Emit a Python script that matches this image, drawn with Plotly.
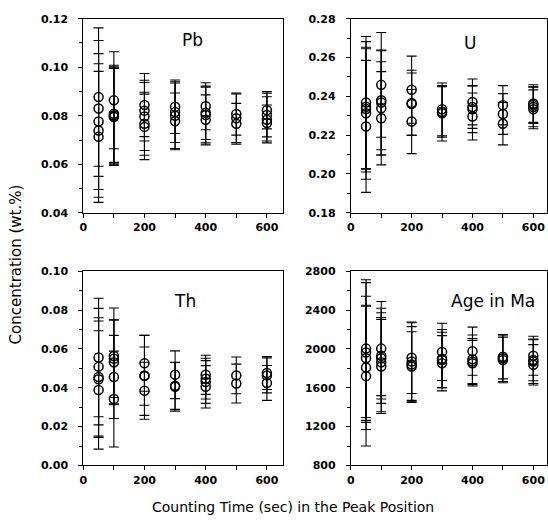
import plotly.graph_objects as go

# ---------------- data (counting time in s, value, 1-sigma error) ----------------
pb_x = [50]*5 + [100]*5 + [200]*5 + [300]*4 + [400]*4 + [500]*3 + [600]*4
pb_y = [0.0877, 0.0830, 0.0776, 0.0739, 0.0713,
        0.0864, 0.0808, 0.0802, 0.0798, 0.0795,
        0.0844, 0.0821, 0.0797, 0.0767, 0.0754,
        0.0837, 0.0815, 0.0800, 0.0777,
        0.0839, 0.0812, 0.0803, 0.0783,
        0.0807, 0.0790, 0.0767,
        0.0823, 0.0803, 0.0783, 0.0770]
pb_err = [0.0285, 0.0280, 0.0280, 0.0275, 0.0270,
          0.0200, 0.0200, 0.0200, 0.0200, 0.0200,
          0.0130, 0.0125, 0.0140, 0.0130, 0.0135,
          0.0110, 0.0125, 0.0135, 0.0117,
          0.0097, 0.0110, 0.0115, 0.0103,
          0.0087, 0.0100, 0.0084,
          0.0077, 0.0090, 0.0095, 0.0074]

u_x = [50]*5 + [100]*5 + [200]*4 + [300]*3 + [400]*4 + [500]*3 + [600]*4
u_y = [0.2368, 0.2346, 0.2335, 0.2313, 0.2245,
       0.2459, 0.2380, 0.2368, 0.2338, 0.2287,
       0.2434, 0.2366, 0.2360, 0.2270,
       0.2333, 0.2320, 0.2313,
       0.2371, 0.2345, 0.2333, 0.2296,
       0.2354, 0.2309, 0.2259,
       0.2363, 0.2355, 0.2345, 0.2333]
u_err = [0.0340, 0.0336, 0.0310, 0.0340, 0.0340,
         0.0270, 0.0255, 0.0270, 0.0240, 0.0240,
         0.0173, 0.0168, 0.0160, 0.0165,
         0.0136, 0.0130, 0.0143,
         0.0118, 0.0110, 0.0120, 0.0121,
         0.0101, 0.0105, 0.0109,
         0.0097, 0.0095, 0.0102, 0.0100]

th_x = [50]*5 + [100]*5 + [200]*4 + [300]*3 + [400]*4 + [500]*2 + [600]*3
th_y = [0.0556, 0.0509, 0.0456, 0.0444, 0.0389,
        0.0564, 0.0550, 0.0531, 0.0456, 0.0342,
        0.0526, 0.0464, 0.0460, 0.0385,
        0.0467, 0.0410, 0.0405,
        0.0467, 0.0447, 0.0430, 0.0405,
        0.0464, 0.0422,
        0.0476, 0.0464, 0.0425]
th_err = [0.0305, 0.0300, 0.0305, 0.0300, 0.0305,
          0.0247, 0.0200, 0.0218, 0.0214, 0.0247,
          0.0144, 0.0206, 0.0150, 0.0147,
          0.0123, 0.0121, 0.0125,
          0.0101, 0.0105, 0.0110, 0.0109,
          0.0095, 0.0100,
          0.0085, 0.0090, 0.0090]

age_x = [50]*5 + [100]*5 + [200]*4 + [300]*4 + [400]*4 + [500]*3 + [600]*4
age_y = [2004, 1964, 1904, 1810, 1720,
         2004, 1930, 1904, 1864, 1820,
         1910, 1870, 1840, 1820,
         1970, 1900, 1887, 1853,
         1977, 1894, 1870, 1853,
         1920, 1905, 1887,
         1930, 1887, 1870, 1837]
age_err = [710, 720, 640, 640, 720,
           485, 490, 420, 510, 485,
           368, 400, 390, 358,
           295, 300, 285, 285,
           248, 250, 237, 234,
           228, 240, 235,
           201, 215, 225, 208]

panel_names = ["Pb", "U", "Th", "Age in Ma"]
x_tickvals = [0, 100, 200, 300, 400, 500, 600]
x_ticktext = ["0", "", "200", "", "400", "", "600"]
x_title = "Counting Time (sec) in the Peak Position"
y_title = "Concentration (wt.%)"

# ---------------- figure ----------------
W, H = 548, 530
fig = go.Figure()

series = [(pb_x, pb_y, pb_err), (u_x, u_y, u_err), (th_x, th_y, th_err), (age_x, age_y, age_err)]
for i, (xs, ys, es) in enumerate(series):
    sfx = "" if i == 0 else str(i + 1)
    fig.add_trace(go.Scatter(
        x=xs, y=ys, mode="markers",
        xaxis="x" + sfx, yaxis="y" + sfx,
        marker=dict(symbol="circle-open", size=9, color="black", line=dict(width=1.5, color="black")),
        error_y=dict(type="data", array=es, visible=True, color="black", thickness=1.1, width=5),
        showlegend=False, hoverinfo="skip",
    ))

def px_dom(a, b, total):
    return [a / total, b / total]

xdoms = [px_dom(80, 282, W), px_dom(350, 548, W), px_dom(80, 282, W), px_dom(350, 548, W)]
ydoms = [[1 - 212 / H, 1 - 13 / H], [1 - 212 / H, 1 - 13 / H],
         [1 - 471 / H, 1 - 272 / H], [1 - 471 / H, 1 - 272 / H]]
xranges = [[0, 654], [0, 645], [0, 654], [0, 645]]
yranges = [[0.04, 0.12], [0.18, 0.28], [0.0, 0.10], [800, 2800]]
ydticks = [0.02, 0.02, 0.02, 400]
yformats = [".2f", ".2f", ".2f", "d"]

tickfont = dict(family="DejaVu Sans", size=11, color="black", weight="bold")
axis_common = dict(showgrid=False, zeroline=False, showline=True, linecolor="black",
                   linewidth=1, mirror=True, ticks="outside", ticklen=4, tickwidth=1,
                   tickcolor="black", tickfont=tickfont)

layout = dict(width=W, height=H, margin=dict(l=0, r=0, t=0, b=0),
              paper_bgcolor="white", plot_bgcolor="white", showlegend=False)
for i in range(4):
    sfx = "" if i == 0 else str(i + 1)
    layout["xaxis" + sfx] = dict(axis_common, domain=xdoms[i], range=xranges[i],
                                 tickmode="array", tickvals=x_tickvals, ticktext=x_ticktext,
                                 anchor="y" + sfx)
    layout["yaxis" + sfx] = dict(axis_common, domain=ydoms[i], range=yranges[i],
                                 dtick=ydticks[i], tick0=yranges[i][0], tickformat=yformats[i],
                                 minor=dict(dtick=ydticks[i] / 2, ticks="outside", ticklen=3,
                                            tickcolor="black"),
                                 anchor="x" + sfx, ticklabelstandoff=8)
fig.update_layout(**layout)

label_pos = [(190, 35), (470, 38), (183, 302), (493, 302)]
annots = []
for name, (px, py) in zip(panel_names, label_pos):
    annots.append(dict(text=name, x=px / W, y=1 - py / H, xref="paper", yref="paper",
                       showarrow=False, xanchor="center", yanchor="middle",
                       font=dict(family="DejaVu Sans", size=17, color="black")))
annots.append(dict(text=y_title, x=12 / W, y=1 - 265 / H, xref="paper", yref="paper",
                   showarrow=False, textangle=-90, xanchor="center", yanchor="middle",
                   font=dict(family="DejaVu Sans", size=15, color="black")))
annots.append(dict(text=x_title, x=292 / W, y=1 - 514 / H, xref="paper", yref="paper",
                   showarrow=False, xanchor="center", yanchor="middle",
                   font=dict(family="DejaVu Sans", size=14, color="black")))
fig.update_layout(annotations=annots)

fig.write_html("out.html")
